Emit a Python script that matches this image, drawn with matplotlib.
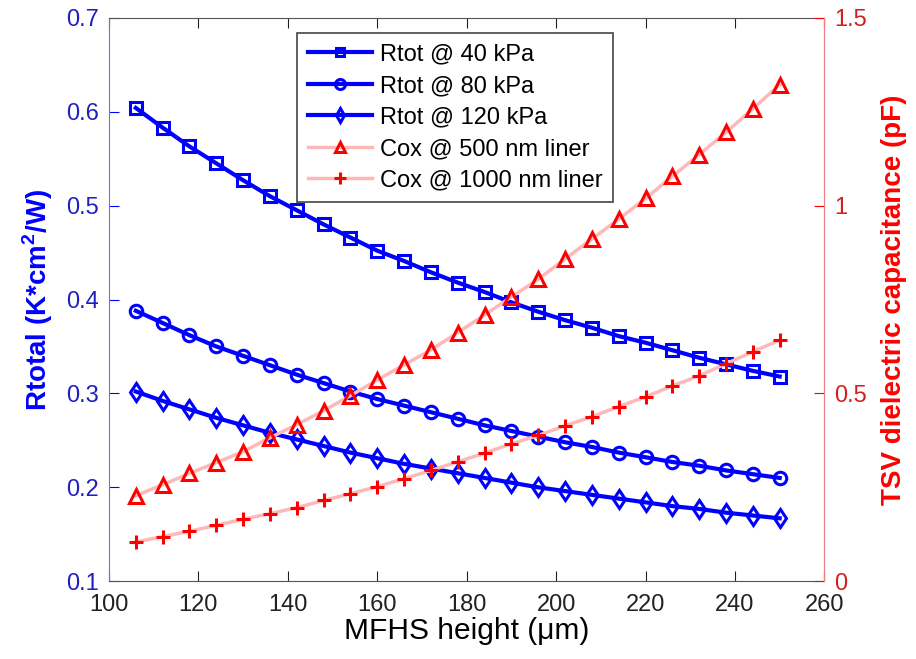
# Rtotal and TSV dielectric capacitance vs MFHS height (two y axes)
import matplotlib
matplotlib.use("Agg")
import matplotlib.pyplot as plt

plt.rcParams['font.family'] = ['Liberation Sans', 'DejaVu Sans']
plt.rcParams['mathtext.fontset'] = 'custom'
plt.rcParams['mathtext.rm'] = 'Liberation Sans'
plt.rcParams['mathtext.bf'] = 'Liberation Sans:bold'

# MFHS height (um)
height = [106, 112, 118, 124, 130, 136, 142, 148, 154, 160, 166, 172, 178,
          184, 190, 196, 202, 208, 214, 220, 226, 232, 238, 244, 250]

# Rtotal (K*cm^2/W)
rtot_40 = [0.604, 0.583, 0.563, 0.545, 0.527, 0.510, 0.495, 0.480, 0.466,
           0.452, 0.441, 0.429, 0.418, 0.408, 0.397, 0.387, 0.378, 0.370,
           0.361, 0.354, 0.346, 0.338, 0.331, 0.324, 0.318]
rtot_80 = [0.388, 0.375, 0.362, 0.350, 0.340, 0.330, 0.320, 0.311, 0.302,
           0.294, 0.287, 0.280, 0.273, 0.266, 0.260, 0.254, 0.248, 0.243,
           0.237, 0.232, 0.227, 0.223, 0.218, 0.214, 0.210]
rtot_120 = [0.302, 0.292, 0.283, 0.274, 0.266, 0.258, 0.251, 0.244, 0.237,
            0.231, 0.225, 0.220, 0.215, 0.210, 0.205, 0.200, 0.196, 0.192,
            0.188, 0.184, 0.180, 0.177, 0.173, 0.170, 0.167]

# TSV dielectric capacitance (pF)
cox_500 = [0.228, 0.257, 0.287, 0.316, 0.345, 0.382, 0.417, 0.454, 0.494,
           0.536, 0.576, 0.616, 0.662, 0.709, 0.757, 0.804, 0.858, 0.911,
           0.964, 1.019, 1.078, 1.136, 1.195, 1.258, 1.322]
cox_1000 = [0.104, 0.119, 0.133, 0.149, 0.165, 0.180, 0.196, 0.215, 0.233,
            0.252, 0.273, 0.295, 0.318, 0.341, 0.366, 0.388, 0.414, 0.438,
            0.465, 0.491, 0.520, 0.547, 0.579, 0.611, 0.642]

xticks = [100, 120, 140, 160, 180, 200, 220, 240, 260]
left_ticks = [0.1, 0.2, 0.3, 0.4, 0.5, 0.6, 0.7]
right_ticks = [0, 0.5, 1, 1.5]

blue = '#0000ff'
red = '#ff0000'
pink = '#ffb8b8'

fig = plt.figure(figsize=(9.16, 6.59), dpi=100)
ax = fig.add_axes([0.119, 0.118, 0.781, 0.855])

blue_kw = dict(color=blue, lw=3, mfc='none', mec=blue, mew=2.2)
l1, = ax.plot(height, rtot_40, marker='s', ms=8, label='Rtot @ 40 kPa', **blue_kw)
l2, = ax.plot(height, rtot_80, marker='o', ms=9, label='Rtot @ 80 kPa', **blue_kw)
l3, = ax.plot(height, rtot_120, marker='d', ms=9.5, label='Rtot @ 120 kPa', **blue_kw)

ax.set_xlim(100, 260)
ax.set_ylim(0.1, 0.7)
ax.set_xticks(xticks)
ax.set_yticks(left_ticks)
ax.set_yticklabels([f'{v:.1f}' for v in left_ticks])
ax.tick_params(axis='x', direction='in', length=7, labelsize=17, top=True,
               colors='#222222', pad=9)
ax.tick_params(axis='y', direction='in', length=7, labelsize=17, right=True,
               colors=blue, labelcolor='#2020c0', pad=7)
ax.set_xlabel('MFHS height (μm)', fontsize=21.5, labelpad=1)
ax.set_ylabel(r'Rtotal (K*cm$^\mathbf{2}$/W)', fontsize=20, fontweight='bold',
              color=blue, labelpad=8)
ax.spines['left'].set_color('#7070e0')
ax.spines['right'].set_color('#f08080')
ax.spines['top'].set_color('#555555')
ax.spines['bottom'].set_color('#555555')

ax2 = ax.twinx()
red_kw = dict(color=pink, lw=2.5, mfc='none', mec=red, mew=2.2)
l4, = ax2.plot(height, cox_500, marker='^', ms=9.5, label='Cox @ 500 nm liner', **red_kw)
l5, = ax2.plot(height, cox_1000, marker='+', ms=10, label='Cox @ 1000 nm liner', **red_kw)

ax2.set_ylim(0, 1.5)
ax2.set_yticks(right_ticks)
ax2.set_yticklabels([f'{v:g}' for v in right_ticks])
ax2.tick_params(axis='y', direction='in', length=7, labelsize=17,
                colors=red, labelcolor='#d02020', pad=7)
ax2.set_ylabel('TSV dielectric capacitance (pF)', fontsize=20, fontweight='bold',
               color=red, labelpad=10)
for side in ['left', 'top', 'bottom']:
    ax2.spines[side].set_visible(False)
ax2.spines['right'].set_color('#f08080')

leg = ax2.legend(handles=[l1, l2, l3, l4, l5], loc='upper left',
                 bbox_to_anchor=(0.263, 0.973), borderaxespad=0, fontsize=17,
                 fancybox=False, framealpha=1, edgecolor='#444444',
                 handlelength=2.7, labelspacing=0.4, borderpad=0.45,
                 handletextpad=0.35, markerscale=0.8)
leg.get_frame().set_linewidth(1.2)

fig.savefig('out.png', dpi=100)
